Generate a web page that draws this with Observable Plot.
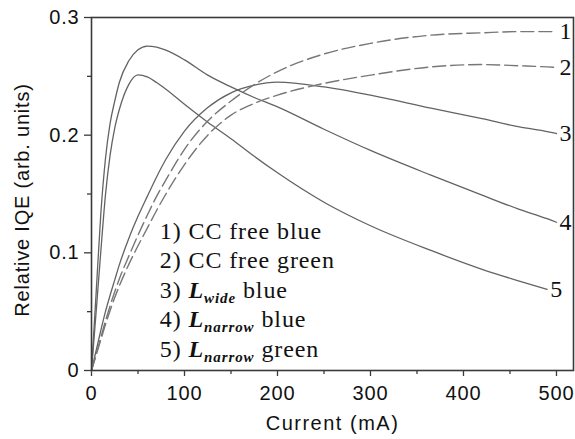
<!DOCTYPE html>
<html><head><meta charset="utf-8">
<script src="https://cdn.jsdelivr.net/npm/d3@7"></script>
<script src="https://cdn.jsdelivr.net/npm/@observablehq/plot@0.6"></script>
<style>body{margin:0;background:#fff;}</style>
</head><body><div id="chart"></div>
<script>
// Current (mA) sample points shared by all series
const currents = [0, 5, 10, 15, 20, 25, 30, 40, 50, 60, 70, 80, 100, 125, 150, 175, 200, 250, 300, 365, 420, 460, 490, 500];
// 1) CC free blue (dashed)
const iqe1 = [0, 0.014, 0.028, 0.042, 0.055, 0.067, 0.078, 0.097, 0.115, 0.132, 0.148, 0.162, 0.188, 0.212, 0.229, 0.243, 0.254, 0.269, 0.278, 0.285, 0.287, 0.288, 0.288, 0.288];
// 2) CC free green (dashed)
const iqe2 = [0, 0.013, 0.026, 0.039, 0.051, 0.062, 0.072, 0.09, 0.106, 0.121, 0.136, 0.15, 0.175, 0.2, 0.217, 0.227, 0.234, 0.244, 0.251, 0.258, 0.26, 0.259, 0.258, 0.2575];
// 3) L_wide blue
const iqe3 = [0, 0.017, 0.034, 0.05, 0.064, 0.077, 0.09, 0.112, 0.131, 0.148, 0.1645, 0.1795, 0.2035, 0.2235, 0.236, 0.2425, 0.245, 0.241, 0.234, 0.223, 0.214, 0.207, 0.203, 0.2014];
// 4) L_narrow blue
const iqe4 = [0, 0.066, 0.133, 0.18, 0.21, 0.229, 0.245, 0.263, 0.2725, 0.2757, 0.2748, 0.2722, 0.264, 0.251, 0.241, 0.232, 0.224, 0.205, 0.187, 0.166, 0.149, 0.137, 0.129, 0.126];
// 5) L_narrow green (ends at 490 mA)
const iqe5 = [0, 0.05, 0.101, 0.149, 0.183, 0.206, 0.222, 0.243, 0.2513, 0.2495, 0.2447, 0.239, 0.2262, 0.211, 0.197, 0.182, 0.168, 0.143, 0.123, 0.102, 0.086, 0.076, 0.069, null];

const seriesIds = ["1", "2", "3", "4", "5"];
const dashedIds = ["1", "2"];
const xTicks = [0, 100, 200, 300, 400, 500];
const xMinorTicks = [50, 150, 250, 350, 450];
const yTicks = [0, 0.1, 0.2, 0.3];
const yMinorTicks = [0.05, 0.15, 0.25];
const legendNums = ["1)", "2)", "3)", "4)", "5)"];
const legendSubs = [null, null, "wide", "narrow", "narrow"];
const legendTexts = ["CC free blue", "CC free green", "blue", "blue", "green"];
const xTitle = "Current (mA)";
const yTitle = "Relative IQE (arb. units)";

const rows = [];
[iqe1, iqe2, iqe3, iqe4, iqe5].forEach((vals, i) => {
  vals.forEach((v, j) => { if (v != null) rows.push({current: currents[j], iqe: v, id: seriesIds[i]}); });
});
const ends = seriesIds.map(id => rows.filter(r => r.id === id).at(-1));
const labelDy = {"1": 2.5, "2": 3, "3": 2, "4": 6, "5": 9};

const curveColor = "#636363";
const frameColor = "#3a3a3a";

const chart = Plot.plot({
  width: 575, height: 439,
  marginLeft: 91, marginRight: 2, marginTop: 17, marginBottom: 69,
  style: {fontFamily: "'Liberation Sans', Arial, sans-serif", fontSize: "20px", color: "#111", background: "#fff", overflow: "visible", letterSpacing: "0.8px"},
  x: {domain: [0, 518.3]},
  y: {domain: [0, 0.3]},
  marks: [
    Plot.axisX({ticks: xMinorTicks, tickSize: 4, tickFormat: () => "", label: null, stroke: frameColor, strokeWidth: 1.3}),
    Plot.axisX({ticks: xTicks, tickSize: 6, tickPadding: 9, tickFormat: d => String(d), label: null, stroke: frameColor, strokeWidth: 1.3}),
    Plot.axisY({ticks: yMinorTicks, tickSize: 4, tickFormat: () => "", label: null, stroke: frameColor, strokeWidth: 1.3}),
    Plot.axisY({ticks: yTicks, tickSize: 7, tickPadding: 5, tickFormat: d => String(d), label: null, stroke: frameColor, strokeWidth: 1.3}),
    Plot.line(rows.filter(r => !dashedIds.includes(r.id)), {x: "current", y: "iqe", z: "id", stroke: curveColor, strokeWidth: 1.3, curve: "monotone-x"}),
    Plot.line(rows.filter(r => dashedIds.includes(r.id)), {x: "current", y: "iqe", z: "id", stroke: "#777", strokeWidth: 1.4, strokeDasharray: "13,5", curve: "monotone-x"}),
    Plot.text(ends, {x: "current", y: "iqe", text: "id", textAnchor: "start", dx: 3, fontFamily: "'Liberation Serif', 'Times New Roman', serif", fontSize: 24, fill: "#111"}),
    Plot.frame({stroke: frameColor, strokeWidth: 1.6}),
    Plot.text([xTitle], {frameAnchor: "bottom", textAnchor: "middle", lineAnchor: "middle", dy: 53, text: d => d, fontSize: 20, fill: "#111", className: "xtitle"}),
    Plot.text([yTitle], {frameAnchor: "left", textAnchor: "middle", lineAnchor: "middle", dx: -69, dy: 6, rotate: -90, text: d => d, fontSize: 20, fill: "#111"})
  ]
});
document.getElementById("chart").appendChild(chart);

const svg = d3.select(chart);
svg.selectAll(".xtitle text").style("letter-spacing", "1.5px");
// vertical offsets of the right-end curve numbers
svg.selectAll("text").filter(function() { return seriesIds.includes(this.textContent) && this.getAttribute("font-size") === "24"; })
  .attr("dy", function() { return (labelDy[this.textContent] + 8.5) + "px"; });

// legend with styled subscripts
const yScale = chart.scale("y"), xScale = chart.scale("x");
const legendX = xScale.apply(74);
const legendY0 = yScale.apply(0.1116);
const legendStep = 29.6;
const lg = svg.append("g").attr("font-family", "'Liberation Serif', 'Times New Roman', serif").attr("font-size", 24)
  .attr("fill", "#111").attr("text-anchor", "start").style("letter-spacing", "0.9px");
legendNums.forEach((num, i) => {
  const t = lg.append("text").attr("x", legendX).attr("y", legendY0 + i * legendStep);
  if (legendSubs[i]) {
    t.append("tspan").text(num + " ");
    t.append("tspan").attr("font-style", "italic").attr("font-weight", "bold").text("L");
    t.append("tspan").attr("font-style", "italic").attr("font-weight", "bold").attr("font-size", 15).attr("dy", 5).text(legendSubs[i]);
    t.append("tspan").attr("dy", -5).text(" " + legendTexts[i]);
  } else {
    t.text(num + " " + legendTexts[i]);
  }
});
</script>
</body></html>
